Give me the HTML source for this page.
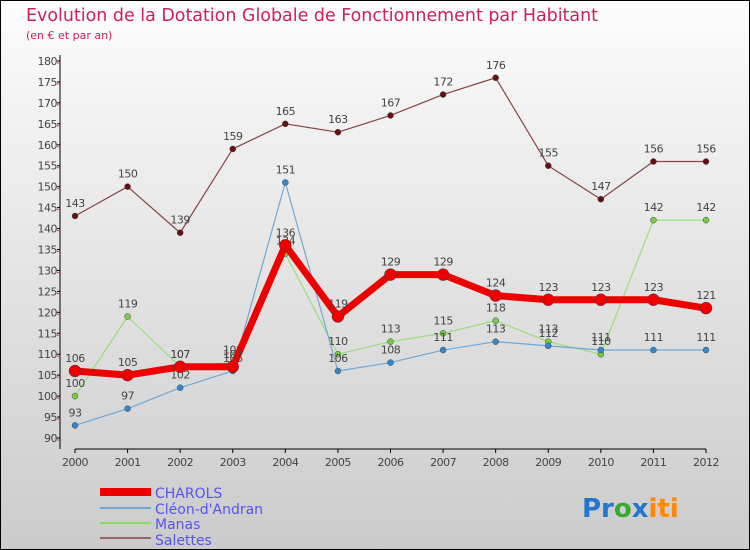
<!DOCTYPE html>
<html><head><meta charset="utf-8"><style>
body{margin:0;width:750px;height:550px;overflow:hidden;font-family:"DejaVu Sans","Liberation Sans",sans-serif}
svg{display:block}
</style></head><body>
<svg width="750" height="550" xmlns="http://www.w3.org/2000/svg">
<defs><linearGradient id="bg" x1="0" y1="0" x2="0" y2="1"><stop offset="0" stop-color="#fcfcfc"/><stop offset="1" stop-color="#cbcbcb"/></linearGradient></defs>
<rect x="0.5" y="0.5" width="749" height="549" fill="url(#bg)" stroke="#000"/>
<text x="26" y="21" font-size="18" fill="#cc2255" textLength="572" lengthAdjust="spacingAndGlyphs">Evolution de la Dotation Globale de Fonctionnement par Habitant</text>
<text x="26" y="39" font-size="11" fill="#cc2255">(en € et par an)</text>
<g id="axes"></g>
<g id="series"></g>
<g>
<rect x="100" y="488" width="51" height="8" fill="#ee0000"/>
<text x="155" y="498" font-size="14" fill="#5555ee">CHAROLS</text>
<rect x="100" y="507" width="51" height="2" fill="#6fa8d6"/>
<text x="155" y="514" font-size="14" fill="#5555ee">Cléon-d'Andran</text>
<rect x="100" y="522" width="51" height="2" fill="#88dd66"/>
<text x="155" y="529" font-size="14" fill="#5555ee">Manas</text>
<rect x="100" y="537" width="51" height="2" fill="#996666"/>
<text x="155" y="545" font-size="14" fill="#5555ee">Salettes</text>
</g>
<g font-size="26" font-weight="bold">
<text x="582" y="517"><tspan fill="#2277cc">Pr</tspan><tspan fill="#33aa33">o</tspan><tspan fill="#2277cc">x</tspan><tspan fill="#ff8800">iti</tspan></text>
</g>
</svg>
<script>
const years=["2000","2001","2002","2003","2004","2005","2006","2007","2008","2009","2010","2011","2012"];
const charols=[106,105,107,107,136,119,129,129,124,123,123,123,121];
const cleon=[93,97,102,106,151,106,108,111,113,112,111,111,111];
const manas=[100,119,107,108,134,110,113,115,118,113,110,142,142];
const salettes=[143,150,139,159,165,163,167,172,176,155,147,156,156];
const yTicks=[90,95,100,105,110,115,120,125,130,135,140,145,150,155,160,165,170,175,180];
const NS="http://www.w3.org/2000/svg";
const X=i=>75+i*(706-75)/(years.length-1);
const Y=v=>438-(v-90)*(438-61)/90;
function mk(tag,attrs,parent){const e=document.createElementNS(NS,tag);for(const k in attrs)e.setAttribute(k,attrs[k]);parent.appendChild(e);return e;}
const ax=document.getElementById('axes'),sg=document.getElementById('series');
let e=mk('line',{x1:60,y1:55,x2:60,y2:449,stroke:'#000','stroke-width':1},ax);


e=mk('line',{x1:75,y1:449,x2:706,y2:449,stroke:'#000','stroke-width':1},ax);


yTicks.forEach(v=>{
 mk('line',{x1:57,y1:Y(v),x2:60,y2:Y(v),stroke:'#000'},ax);
 mk('line',{x1:57,y1:Y(v)+2,x2:59,y2:Y(v)+2,stroke:'#e33'},ax);
 const t=mk('text',{x:57,y:Y(v)+4,'font-size':11,fill:'#444','text-anchor':'end','letter-spacing':'-0.5'},ax);t.textContent=v;
 
 
});
years.forEach((y,i)=>{
 mk('line',{x1:X(i),y1:449,x2:X(i),y2:453,stroke:'#000'},ax);
 const t=mk('text',{x:X(i),y:466,'font-size':11,fill:'#444','text-anchor':'middle','letter-spacing':'-0.5'},ax);t.textContent=y;
 
 
});
function draw(data,color,w,r,name,dot){
 const g=mk('g',{},sg);
 
 
 const p=mk('polyline',{points:data.map((v,i)=>X(i)+','+Y(v)).join(' '),fill:'none',stroke:color,'stroke-width':w,'stroke-linejoin':'round'},g);
 
 
 data.forEach((v,i)=>{
  const c=mk('circle',{cx:X(i),cy:Y(v),r:r,fill:dot,stroke:'#444','stroke-width':0.5},g);
  
  
  const t=mk('text',{x:X(i),y:Y(v)-9,'font-size':11,fill:'#444','text-anchor':'middle','letter-spacing':'-0.5'},g);t.textContent=v;
  
  
 });
}
draw(salettes,'#884444',1.2,3,'salettes','#661111');
draw(manas,'#99dd77',1.2,3,'manas','#77cc44');
draw(cleon,'#6fa8d6',1.2,3,'cleon','#3388cc');
draw(charols,'#ee0000',7,6,'charols','#ee0000');
</script>
</body></html>
